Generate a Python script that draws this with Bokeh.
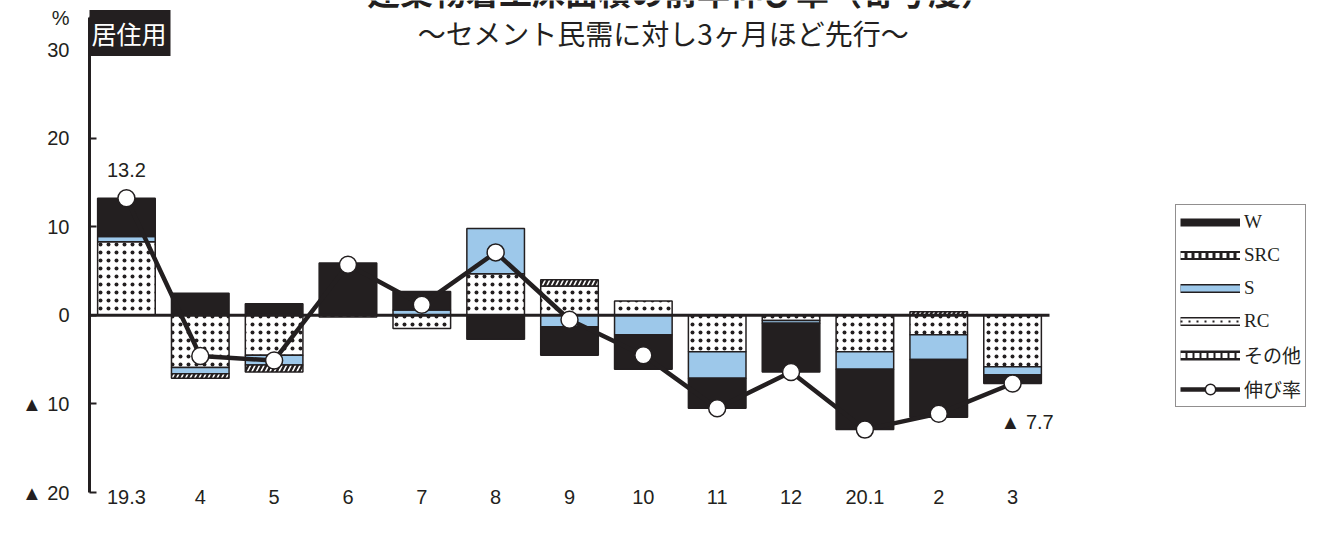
import numpy as np
from bokeh.plotting import figure
from bokeh.models import (ColumnDataSource, Range1d, FixedTicker, Label,
                          Legend, LegendItem)
from bokeh.embed import file_html
from bokeh.resources import INLINE

# ---------------- data ----------------
months = ["19.3", "4", "5", "6", "7", "8", "9", "10", "11", "12", "20.1", "2", "3"]
w_vals = [4.3, 2.5, 1.3, 5.9, 2.1, -2.7, -3.2, -3.9, -3.4, -5.5, -6.8, -6.5, -1.0]
src_vals = [0.0, -0.5, -0.8, 0.0, 0.0, 0.0, 0.7, 0.0, 0.0, 0.0, 0.0, 0.4, 0.0]
s_vals = [0.6, -0.7, -1.1, 0.0, 0.6, 5.1, -1.3, -2.2, -3.0, -0.3, -2.0, -2.8, -0.9]
rc_vals = [8.3, -5.9, -4.5, -0.2, -1.5, 4.7, 3.3, 1.6, -4.1, -0.6, -4.1, -2.2, -5.8]
other_vals = [0.0] * 13
growth = [13.2, -4.6, -5.1, 5.7, 1.2, 7.1, -0.5, -4.5, -10.5, -6.4, -12.9, -11.1, -7.7]
y_ticks = [-20, -10, 0, 10, 20, 30]
y_tick_labels = ["▲ 20", "▲ 10", "0", "10", "20", "30"]
unit_label = "%"

INK = "#231f20"
BLUE = "#9dc8ea"

# ---------------- geometry (pixels) ----------------
W_PX, H_PX = 1320, 530
AX_LEFT, AX_RIGHT = 89, 1049      # plot area of the categories
AX_TOP, AX_BOTTOM = 49, 492       # y=30 .. y=-20
UNIT_Y_PX = 17                    # where the "%" sits
n = len(months)
xpx = (AX_RIGHT - AX_LEFT) / n
ypx = (AX_BOTTOM - AX_TOP) / (y_ticks[-1] - y_ticks[0])
x_end = n - 0.5 + (W_PX - AX_RIGHT) / xpx
y_end = y_ticks[-1] + AX_TOP / ypx
unit_y = y_ticks[-1] + (AX_TOP - UNIT_Y_PX) / ypx

p = figure(width=W_PX, height=H_PX, output_backend="svg", toolbar_location=None,
           x_range=Range1d(-0.5, x_end), y_range=Range1d(y_ticks[0], y_end),
           min_border_left=AX_LEFT, min_border_right=0, min_border_top=0,
           min_border_bottom=H_PX - AX_BOTTOM)
p.outline_line_color = None
p.xgrid.grid_line_color = None
p.ygrid.grid_line_color = None
p.background_fill_color = "white"
p.border_fill_color = "white"

idx = np.arange(n)

styles = {
    "RC": dict(fill_color="white", hatch_pattern="dot", hatch_scale=8,
               hatch_weight=1.0, hatch_color=INK),
    "S": dict(fill_color=BLUE),
    "SRC": dict(fill_color="white", hatch_pattern="/", hatch_scale=9,
                hatch_weight=2.5, hatch_color=INK),
    "W": dict(fill_color=INK),
    "その他": dict(fill_color="white", hatch_pattern="|", hatch_scale=6,
                 hatch_weight=1.5, hatch_color=INK),
}
series = [("RC", rc_vals), ("S", s_vals), ("SRC", src_vals), ("W", w_vals),
          ("その他", other_vals)]

pos = np.zeros(n)
neg = np.zeros(n)
for name, vals in series:
    v = np.array(vals, dtype=float)
    bottom = np.where(v >= 0, pos, neg)
    top = bottom + v
    pos = np.where(v >= 0, top, pos)
    neg = np.where(v < 0, top, neg)
    m = v != 0
    if m.any():
        src = ColumnDataSource(dict(x=idx[m], bottom=bottom[m], top=top[m]))
        p.vbar(x="x", bottom="bottom", top="top", width=0.78, source=src,
               line_color=INK, line_width=1.5, **styles[name])

# zero line across the category area
p.segment(x0=[-0.5], y0=[0], x1=[n - 0.5], y1=[0], line_color=INK, line_width=3)

gsrc = ColumnDataSource(dict(x=idx, y=growth))
gline = p.line("x", "y", source=gsrc, line_color=INK, line_width=4.5)
gpts = p.scatter("x", "y", source=gsrc, size=17, fill_color="white",
                 line_color=INK, line_width=1.5)

# ---------------- axes ----------------
p.yaxis.ticker = FixedTicker(ticks=y_ticks + [unit_y], minor_ticks=[])
p.yaxis.bounds = (y_ticks[0], unit_y)
ov = {t: l for t, l in zip(y_ticks, y_tick_labels)}
ov[unit_y] = unit_label
p.yaxis.major_label_overrides = ov
p.yaxis.axis_line_color = INK
p.yaxis.axis_line_width = 3
p.yaxis.major_tick_in = 7
p.yaxis.major_tick_out = 0
p.yaxis.major_tick_line_width = 2
p.yaxis.major_tick_line_color = INK
p.yaxis.minor_tick_line_color = None
p.yaxis.major_label_standoff = 20
p.yaxis.major_label_text_font = "Liberation Sans"
p.yaxis.major_label_text_font_size = "20px"
p.yaxis.major_label_text_color = INK

p.xaxis.ticker = FixedTicker(ticks=list(idx), minor_ticks=[])
p.xaxis.major_label_overrides = {int(i): m for i, m in zip(idx, months)}
p.xaxis.axis_line_color = None
p.xaxis.major_tick_line_color = None
p.xaxis.minor_tick_line_color = None
p.xaxis.major_label_standoff = -9
p.xaxis.major_label_text_font = "Liberation Sans"
p.xaxis.major_label_text_font_size = "20px"
p.xaxis.major_label_text_color = INK

# ---------------- labels ----------------
p.add_layout(Label(x=591, y=502, x_units="screen", y_units="screen",
                   text="建築物着工床面積の前年伸び率（寄与度）",
                   text_font="Noto Sans CJK JP", text_font_size="33px",
                   text_font_style="bold",
                   text_align="center", text_baseline="alphabetic", text_color=INK))
p.add_layout(Label(x=574, y=460, x_units="screen", y_units="screen",
                   text="〜セメント民需に対し3ヶ月ほど先行〜",
                   text_font="Noto Sans CJK JP", text_font_size="28px",
                   text_align="center", text_baseline="middle", text_color=INK))
p.add_layout(Label(x=39.5, y=459.5, x_units="screen", y_units="screen",
                   text="居住用", text_font="Noto Sans CJK JP", text_font_size="25px",
                   text_align="center", text_baseline="middle", text_color="white",
                   background_fill_color=INK,
                   padding=dict(left=4, right=4, top=5, bottom=5)))
p.add_layout(Label(x=0, y=growth[0], y_offset=28, text=f"{growth[0]:.1f}",
                   text_font="Liberation Sans", text_font_size="20px",
                   text_align="center", text_baseline="middle", text_color=INK))
p.add_layout(Label(x=12, y=growth[-1], x_offset=-12, y_offset=-38,
                   text=f"▲ {abs(growth[-1]):.1f}",
                   text_font="Liberation Sans", text_font_size="20px",
                   text_align="left", text_baseline="middle", text_color=INK))

# ---------------- legend (swatches only) ----------------
nan_src = ColumnDataSource(dict(x=[np.nan], y=[np.nan]))
def L(**kw):
    return p.line("x", "y", source=nan_src, **kw)

items = [
    LegendItem(label="W", renderers=[L(line_color=INK, line_width=8)]),
    LegendItem(label="SRC", renderers=[L(line_color=INK, line_width=9),
                                       L(line_color="white", line_width=5, line_dash="4 3")]),
    LegendItem(label="S", renderers=[L(line_color=INK, line_width=9),
                                     L(line_color=BLUE, line_width=6)]),
    LegendItem(label="RC", renderers=[L(line_color=INK, line_width=9),
                                      L(line_color="white", line_width=6),
                                      L(line_color=INK, line_width=2, line_dash="2 6")]),
    LegendItem(label="その他", renderers=[L(line_color=INK, line_width=10),
                                        L(line_color="white", line_width=5, line_dash="5 2")]),
    LegendItem(label="伸び率", renderers=[gline, gpts]),
]
legend = Legend(items=items, location=(1175 - AX_LEFT, AX_BOTTOM - 407), padding=4, spacing=7,
                glyph_width=60, glyph_height=26, label_height=20, label_standoff=4,
                label_text_font="Liberation Serif, Noto Sans CJK JP",
                label_text_font_size="19px", label_text_color=INK,
                border_line_color=INK, border_line_width=1.5,
                background_fill_color="white", background_fill_alpha=1, margin=0)
p.add_layout(legend, "center")

open("out.html", "w").write(file_html(p, INLINE))
